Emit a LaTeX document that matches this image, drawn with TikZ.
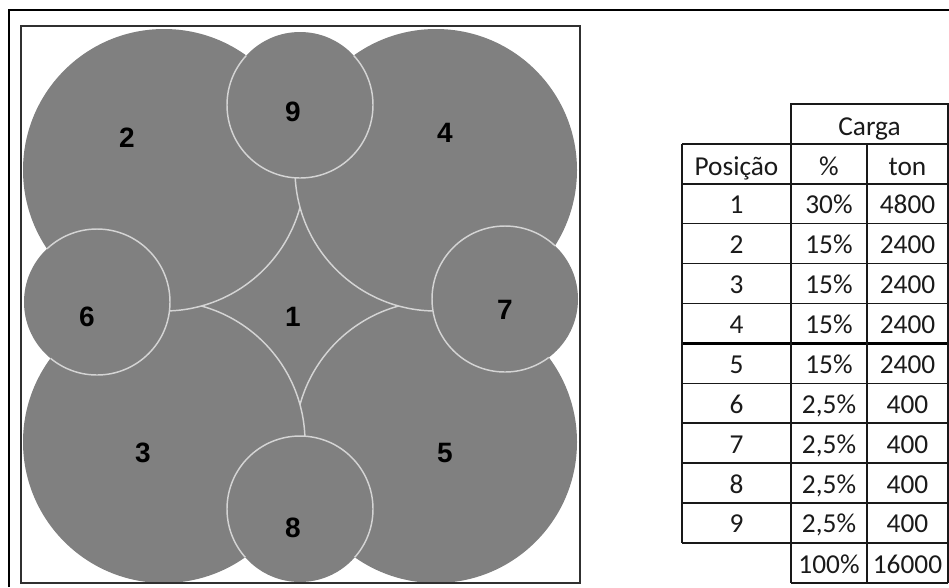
\documentclass[tikz,border=0pt]{standalone}
\usepackage{fontspec}
\setmainfont{Carlito}
\newfontfamily\numfont{Liberation Sans}
\definecolor{coil}{HTML}{808080}
\definecolor{rim}{HTML}{D4D4D4}
\definecolor{sqframe}{HTML}{303030}
\definecolor{txt}{HTML}{1A1A1A}
\begin{document}
\begin{tikzpicture}[x=0.75pt,y=-0.75pt,
  numlbl/.style={font=\numfont\bfseries\fontsize{21}{21}\selectfont, text=black, inner sep=0pt},
  cell/.style={font=\fontsize{20.5}{24}\selectfont, text=txt, inner sep=0pt, anchor=base},
  rimline/.style={draw=rim, line width=1.1pt},
  tline/.style={draw=black!90, line width=1.1pt},
  bigR/.style={radius=105.75pt},
  smallR/.style={radius=54.75pt},
  midR/.style={radius=78pt}]
\useasboundingbox (0,0) rectangle (949,587);

% centres
\coordinate (c1) at (300,306);
\coordinate (c2) at (164,170);
\coordinate (c3) at (164,442);
\coordinate (c4) at (436,170);
\coordinate (c5) at (436,442);
\coordinate (c6) at (97,302);
\coordinate (c7) at (505,299);
\coordinate (c8) at (300,509);
\coordinate (c9) at (300,105);

% circle 1 (central)
\fill[coil] (c1) circle[midR];
% circle 5
\fill[coil] (c5) circle[bigR];
\begin{scope}
  \clip (c1) circle[midR];
  \draw[rimline] (c5) circle[bigR];
\end{scope}
% circle 3
\fill[coil] (c3) circle[bigR];
\begin{scope}
  \clip (c1) circle[midR] (c5) circle[bigR];
  \draw[rimline] (c3) circle[bigR];
\end{scope}
% circle 2
\fill[coil] (c2) circle[bigR];
\begin{scope}
  \clip (c1) circle[midR] (c5) circle[bigR] (c3) circle[bigR];
  \draw[rimline] (c2) circle[bigR];
\end{scope}
% circle 4
\fill[coil] (c4) circle[bigR];
\begin{scope}
  \clip (c1) circle[midR] (c5) circle[bigR] (c3) circle[bigR] (c2) circle[bigR];
  \draw[rimline] (c4) circle[bigR];
\end{scope}
% small circles 6-9
\foreach \c in {c6,c7,c8,c9}{
  \fill[coil] (\c) circle[smallR];
  \begin{scope}
    \clip (c1) circle[midR] (c5) circle[bigR] (c3) circle[bigR] (c2) circle[bigR] (c4) circle[bigR];
    \draw[rimline] (\c) circle[smallR];
  \end{scope}
}

% labels
\node[numlbl] (n1) at (293,317) {1};
\node[numlbl] (n2) at (127,138) {2};
\node[numlbl] (n3) at (143,453) {3};
\node[numlbl] (n4) at (445,133) {4};
\node[numlbl] (n5) at (445,453) {5};
\node[numlbl] (n6) at (87,317) {6};
\node[numlbl] (n7) at (505,310) {7};
\node[numlbl] (n8) at (293,528) {8};
\node[numlbl] (n9) at (293,112) {9};

% inner square and outer frame
\draw[sqframe, line width=1.1pt] (21,26) rectangle (580,583);
\draw[black, line width=1.5pt] (9,587) -- (9,10) -- (949,10);

% table
\def\xL{682}\def\xA{791}\def\xB{867}\def\xR{948}
\draw[tline] (\xA,104) rectangle (\xR,143.9);
\foreach \j in {1,...,11}{
  \pgfmathsetmacro\yy{104+39.9*\j}
  \draw[tline] (\xL,\yy) -- (\xR,\yy);
}
\draw[tline] (\xA,582.8) -- (\xR,582.8);
\draw[black, line width=2.2pt] (\xL,343.4) -- (\xR,343.4);
\draw[tline] (\xL,143.9) -- (\xL,542.9);
\draw[tline] (\xA,104) -- (\xA,582.8);
\draw[tline] (\xB,143.9) -- (\xB,582.8);
\draw[tline] (\xR,104) -- (\xR,582.8);

\node[cell] (carga) at (869.5,135) {Carga};
\node[cell] (pos) at (736.5,175) {Posição};
\node[cell] (pct) at (829,175) {\%};
\node[cell] (ton) at (907.5,175) {ton};
\foreach \i/\p/\t in {1/30\%/4800, 2/15\%/2400, 3/15\%/2400, 4/15\%/2400, 5/15\%/2400, 6/{2,5\%}/400, 7/{2,5\%}/400, 8/{2,5\%}/400, 9/{2,5\%}/400}{
  \pgfmathsetmacro\yb{104+39.9*(\i+1.5)+10}
  \node[cell] (r\i a) at (736.5,\yb) {\i};
  \node[cell] (r\i b) at (829,\yb) {\p};
  \node[cell] (r\i c) at (907.5,\yb) {\t};
}
\node[cell] (totp) at (829,573) {100\%};
\node[cell] (tott) at (907.5,573) {16000};
\end{tikzpicture}
\end{document}
